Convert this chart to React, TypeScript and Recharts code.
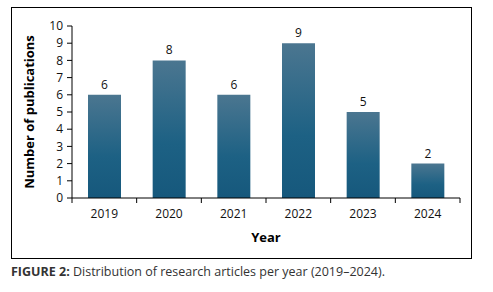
import React from 'react';
import { BarChart, Bar, XAxis, YAxis, LabelList, Label } from 'recharts';

const years = ['2019', '2020', '2021', '2022', '2023', '2024'];
const publications = [6, 8, 6, 9, 5, 2];
const yTicks = [0, 1, 2, 3, 4, 5, 6, 7, 8, 9, 10];

const data = years.map((year, i) => ({ year, count: publications[i] }));

const W = 493;
const H = 260;
const margin = { top: 26, right: 33, bottom: 32, left: 42 };
const yAxisWidth = 30;
const plotWidth = W - margin.left - margin.right - yAxisWidth;
const band = plotWidth / years.length;
const font = '"Open Sans", "Noto Sans", sans-serif';

const YearTick = (props: any) => {
  const { x, y, payload, index } = props;
  return (
    <g>
      <line x1={x - band / 2} x2={x - band / 2} y1={y} y2={y + 5} stroke="#000" />
      {index === years.length - 1 && (
        <line x1={x + band / 2} x2={x + band / 2} y1={y} y2={y + 5} stroke="#000" />
      )}
      <text x={x} y={y + 11} dy="0.71em" textAnchor="middle" fill="#111" fontSize={12} fontFamily={font}>
        {payload.value}
      </text>
    </g>
  );
};

const YTitle = (props: any) => {
  const { viewBox } = props;
  const cx = 29;
  const cy = viewBox.y + viewBox.height / 2;
  return (
    <text
      x={cx}
      y={cy}
      transform={`rotate(-90, ${cx}, ${cy})`}
      textAnchor="middle"
      dominantBaseline="central"
      fontSize={13}
      fontWeight="bold"
      fontFamily={font}
      fill="#000"
    >
      Number of publications
    </text>
  );
};

export default function App() {
  return (
    <div style={{ position: 'absolute', left: 0, top: 0, width: W, height: 292, background: '#fff' }}>
      <div
        style={{
          position: 'absolute',
          left: 11,
          top: 7,
          width: 459,
          height: 250,
          border: '1px solid #000',
        }}
      />
      <div style={{ position: 'absolute', left: 0, top: 0 }}>
        <BarChart width={W} height={H} data={data} margin={margin}>
          <defs>
            <linearGradient id="barFill" x1="0" y1="0" x2="0" y2="1">
              <stop offset="0%" stopColor="#4b7690" />
              <stop offset="60%" stopColor="#1d6184" />
              <stop offset="100%" stopColor="#16587c" />
            </linearGradient>
          </defs>
          <XAxis
            dataKey="year"
            height={30}
            stroke="#000"
            tickLine={false}
            tickSize={0}
            tickMargin={0}
            tick={<YearTick />}
            interval={0}
          >
            <Label
              value="Year"
              position="bottom"
              offset={5}
              fontSize={13}
              fontWeight="bold"
              fontFamily={font}
              fill="#000"
            />
          </XAxis>
          <YAxis
            width={yAxisWidth}
            domain={[0, 10]}
            ticks={yTicks}
            interval={0}
            stroke="#000"
            tickSize={5}
            tickMargin={4}
            tick={{ fill: '#111', fontSize: 12, fontFamily: font }}
          >
            <Label content={<YTitle />} />
          </YAxis>
          <Bar dataKey="count" fill="url(#barFill)" barSize={33} isAnimationActive={false}>
            <LabelList
              dataKey="count"
              position="top"
              offset={6}
              fill="#111"
              fontSize={12}
              fontFamily={font}
            />
          </Bar>
        </BarChart>
      </div>
      <div
        style={{
          position: 'absolute',
          left: 11,
          top: 263,
          fontFamily: font,
          fontSize: 12.5,
          color: '#333',
          whiteSpace: 'nowrap',
        }}
      >
        <b>FIGURE 2:</b> Distribution of research articles per year (2019–2024).
      </div>
    </div>
  );
}
